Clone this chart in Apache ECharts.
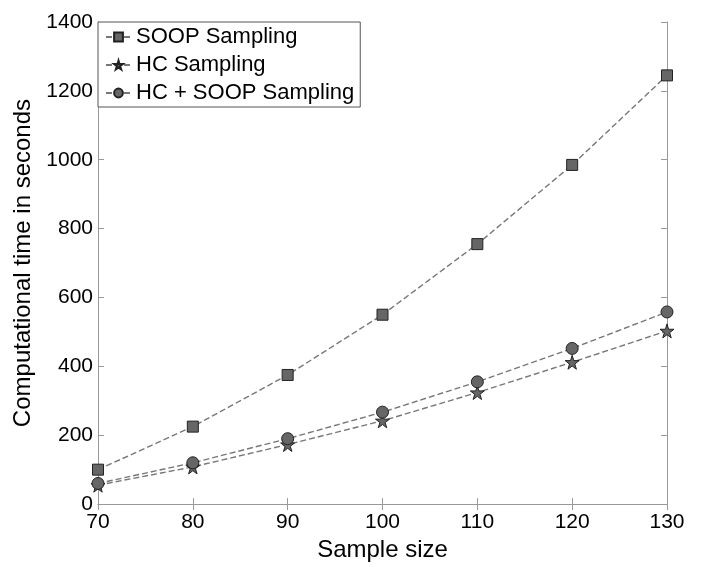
<!DOCTYPE html>
<html><head><meta charset="utf-8">
<script src="https://cdn.jsdelivr.net/npm/echarts@6/dist/echarts.min.js"></script>
<style>html,body{margin:0;padding:0;background:#fff}#c{width:704px;height:567px}</style>
</head><body><div id="c"></div>
<script>
var sampleSizes = [70, 80, 90, 100, 110, 120, 130];
var soopSampling = [100, 225, 375, 550, 755, 985, 1245];
var hcSampling = [55, 108, 173, 242, 324, 412, 503];
var hcSoopSampling = [60, 120, 190, 267, 355, 452, 558];
var yTicks = [0, 200, 400, 600, 800, 1000, 1200, 1400];

var STAR = 'path://M50,0 L61,35 L98,35 L68,57 L79,91 L50,70 L21,91 L32,57 L2,35 L39,35 Z';
function pairs(ys){ return sampleSizes.map(function(x,i){ return [x, ys[i]]; }); }
var font = 'Liberation Sans, Arial, sans-serif';
function mk(name, data, symbol, size){
  return {
    name: name, type: 'line', data: pairs(data), symbol: symbol, symbolSize: size,
    xAxisIndex: 0, yAxisIndex: 0,
    lineStyle: {color: '#777', width: 1.4, type: [6, 3]},
    itemStyle: {color: '#666', borderColor: '#222', borderWidth: 1},
    emphasis: {disabled: true}, animation: false, z: 3
  };
}
var chart = echarts.init(document.getElementById('c'), null, {renderer: 'canvas'});
var axLine = {show: true, lineStyle: {color: '#999', width: 1}};
var tick = {show: true, inside: true, length: 6, lineStyle: {color: '#999'}};
chart.setOption({
  backgroundColor: '#fff',
  animation: false,
  grid: {left: 98, right: 37, top: 22, bottom: 53, containLabel: false},
  xAxis: [{
    type: 'value', min: 70, max: 130, interval: 10, position: 'bottom',
    axisLine: axLine, axisTick: tick, splitLine: {show: false},
    axisLabel: {color: '#000', fontSize: 21, fontFamily: font, margin: 8},
    name: 'Sample size', nameLocation: 'middle', nameGap: 28,
    nameTextStyle: {color: '#000', fontSize: 24, fontFamily: font}
  }, {
    type: 'value', min: 70, max: 130, interval: 10, position: 'top',
    axisLine: axLine, axisTick: tick, axisLabel: {show: false}, splitLine: {show: false}
  }],
  yAxis: [{
    type: 'value', min: 0, max: 1400, interval: 200, position: 'left',
    axisLine: axLine, axisTick: tick, splitLine: {show: false},
    axisLabel: {color: '#000', fontSize: 21, fontFamily: font, margin: 5,
      formatter: function(v){ return yTicks.indexOf(v) >= 0 ? String(v) : ''; }},
    name: 'Computational time in seconds', nameLocation: 'middle', nameGap: 56, nameRotate: 90,
    nameTextStyle: {color: '#000', fontSize: 24, fontFamily: font}
  }, {
    type: 'value', min: 0, max: 1400, interval: 200, position: 'right',
    axisLine: axLine, axisTick: tick, axisLabel: {show: false}, splitLine: {show: false}
  }],
  legend: {
    orient: 'vertical', left: 98, top: 22, padding: [4, 6, 3, 7], itemGap: 6,
    backgroundColor: '#fff', borderColor: '#555', borderWidth: 1,
    itemWidth: 25, itemHeight: 11,
    textStyle: {color: '#000', fontSize: 22, fontFamily: font},
    data: ['SOOP Sampling', 'HC Sampling', 'HC + SOOP Sampling'],
    selectedMode: false
  },
  series: [
    mk('SOOP Sampling', soopSampling, 'rect', 11),
    mk('HC Sampling', hcSampling, STAR, 14),
    mk('HC + SOOP Sampling', hcSoopSampling, 'circle', 12)
  ]
});
</script></body></html>
